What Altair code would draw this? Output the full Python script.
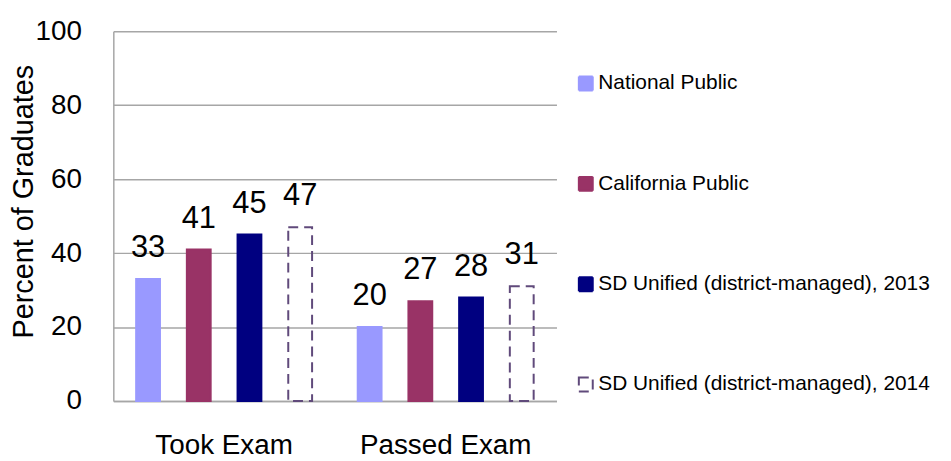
import altair as alt
import pandas as pd

groups = ["Took Exam", "Passed Exam"]
series = [
    "National Public",
    "California Public",
    "SD Unified (district-managed), 2013",
    "SD Unified (district-managed), 2014",
]
took_exam = [33, 41, 45, 47]
passed_exam = [20, 27, 28, 31]

fills = ["#9999FF", "#993366", "#000080", "transparent"]
strokes = ["#9999FF", "#993366", "#000080", "#604A7B"]
dashes = [[1, 0], [1, 0], [1, 0], [10, 6]]

rows = []
for g, vals in zip(groups, [took_exam, passed_exam]):
    for s, v in zip(series, vals):
        rows.append({"group": g, "series": s, "value": v})
df = pd.DataFrame(rows)

FONT = "Liberation Sans, Arial, sans-serif"
GRID = "#A6A6A6"

x = alt.X("group:N", sort=groups, title=None,
          scale=alt.Scale(paddingInner=0, paddingOuter=0),
          axis=alt.Axis(labelAngle=0, labelFont=FONT, labelFontSize=28,
                        labelColor="#000000", labelPadding=31, labelLimit=400,
                        ticks=False, domainColor=GRID, domainWidth=1.5, grid=False))
xo = alt.XOffset("series:N", sort=series,
                 scale=alt.Scale(paddingInner=0.53, paddingOuter=0.45))
y = alt.Y("value:Q", title="Percent of Graduates",
          scale=alt.Scale(domain=[0, 100], nice=False),
          axis=alt.Axis(values=[0, 20, 40, 60, 80, 100], labelFont=FONT,
                        labelFontSize=28, labelColor="#000000", labelPadding=32,
                        ticks=False, tickSize=0, domainColor=GRID, domainWidth=1.5,
                        gridColor=GRID, gridWidth=1.5,
                        titleFont=FONT, titleFontSize=29, titleFontWeight="normal",
                        titleColor="#000000", titleAngle=-90,
                        titleAlign="center", titleBaseline="middle",
                        titleX=-90, titleY=171))

legend = alt.Legend(title=None, orient="none", legendX=465, legendY=42,
                    symbolType="square", symbolSize=196, symbolStrokeWidth=2,
                    labelFont=FONT, labelFontSize=21, labelColor="#000000",
                    labelOffset=2, rowPadding=78, labelLimit=400)

bars = alt.Chart(df).mark_bar(strokeWidth=2).encode(
    x=x, xOffset=xo, y=y,
    fill=alt.Fill("series:N", sort=series,
                  scale=alt.Scale(domain=series, range=fills), legend=legend),
    stroke=alt.Stroke("series:N", sort=series,
                      scale=alt.Scale(domain=series, range=strokes), legend=legend),
    strokeDash=alt.StrokeDash("series:N", sort=series,
                              scale=alt.Scale(domain=series, range=dashes),
                              legend=legend),
)

labels = alt.Chart(df).mark_text(font=FONT, fontSize=31, dy=-22,
                                 baseline="alphabetic", color="#000000").encode(
    x=x, xOffset=xo, y=y, text=alt.Text("value:Q"),
)

chart = alt.layer(bars, labels).properties(
    width=446, height=372,
    autosize=alt.AutoSizeParams(type="none"),
    padding={"left": 106, "top": 22, "right": 389, "bottom": 59},
).configure_view(strokeWidth=0)

chart.save("out.html", embed_options={"renderer": "svg", "actions": False})
